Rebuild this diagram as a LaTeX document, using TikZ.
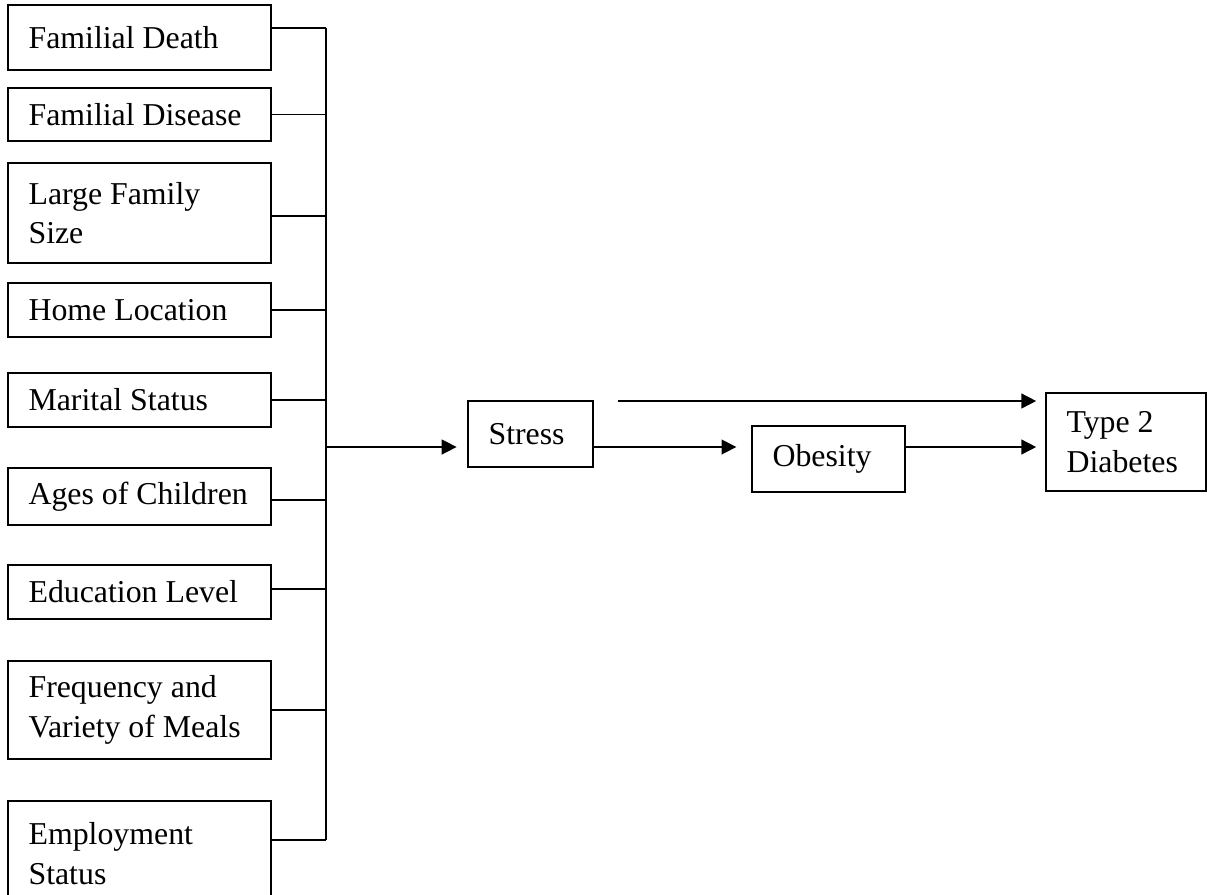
\documentclass[tikz,border=0pt]{standalone}
\usepackage{fontspec}
\setmainfont{Liberation Serif}
\usetikzlibrary{arrows.meta}
\newcommand{\pxu}{0.377pt}
\tikzset{
	box/.style 2 args={draw, line width=0.6pt, rectangle, inner xsep=7.5pt, inner ysep=0pt, align=flush left,
		minimum width=#1*\pxu, minimum height=#2*\pxu, text width=#1*\pxu-15.5pt,
		font=\fontsize{12}{15}\selectfont},
	link/.style={line width=0.6pt},
	arr/.style={link, -{Triangle[length=5.6pt,width=5.6pt]}, shorten >=#1},
	arr/.default=4pt
}
\begin{document}
\begin{tikzpicture}[x=\pxu, y=-\pxu]
	\useasboundingbox (0,0) rectangle (1207,894);
	% factors on the left
	\node[box={263}{65}] (death) at (139.5,37.5) {Familial Death};
	\node[box={263}{53}] (disease) at (139.5,114.5) {Familial Disease};
	\node[box={263}{100}] (famsize) at (139.5,213) {Large Family\\Size};
	\node[box={263}{54}] (home) at (139.5,310) {Home Location};
	\node[box={263}{54}] (marital) at (139.5,400) {Marital Status};
	\node[box={263}{57}] (ages) at (139.5,496.5) {Ages of Children};
	\node[box={263}{54}] (edu) at (139.5,592) {Education Level};
	\node[box={263}{98}] (meals) at (139.5,710) {Frequency and\\Variety of Meals};
	\node[box={263}{105}] (employ) at (139.5,853.5) {Employment\\Status};
	% chain
	\node[box={125}{66}] (stress) at (530.5,434) {Stress};
	\node[box={153}{66}] (obesity) at (828.5,459) {Obesity};
	\node[box={160}{98}] (t2d) at (1126,442) {Type 2\\Diabetes};
	% bus
	\coordinate (bus) at (326,447);
	\coordinate (direct) at (618,401);
	\draw[link] ([yshift=3.6pt]death.east) coordinate (ttop) -- (ttop -| bus);
	\draw[link] (disease.east) -- (disease.east -| bus);
	\draw[link] ([yshift=-1.1pt]famsize.east) -- ([yshift=-1.1pt]famsize.east -| bus);
	\draw[link] (home.east) -- (home.east -| bus);
	\draw[link] (marital.east) -- (marital.east -| bus);
	\draw[link] ([yshift=-1.3pt]ages.east) -- ([yshift=-1.3pt]ages.east -| bus);
	\draw[link] ([yshift=1.1pt]edu.east) -- ([yshift=1.1pt]edu.east -| bus);
	\draw[link] (meals.east) -- (meals.east -| bus);
	\draw[link] ([yshift=5.1pt]employ.east) coordinate (tbot) -- (tbot -| bus);
	\draw[link] (ttop -| bus) -- (tbot -| bus);
	% arrows
	\draw[arr] (bus) -- (bus -| stress.west);
	\draw[arr=5.6pt] (bus -| stress.east) -- (bus -| obesity.west);
	\draw[arr=3.4pt] (bus -| obesity.east) -- (bus -| t2d.west);
	\draw[arr=3.4pt] (direct) -- (direct -| t2d.west);
\end{tikzpicture}
\end{document}
